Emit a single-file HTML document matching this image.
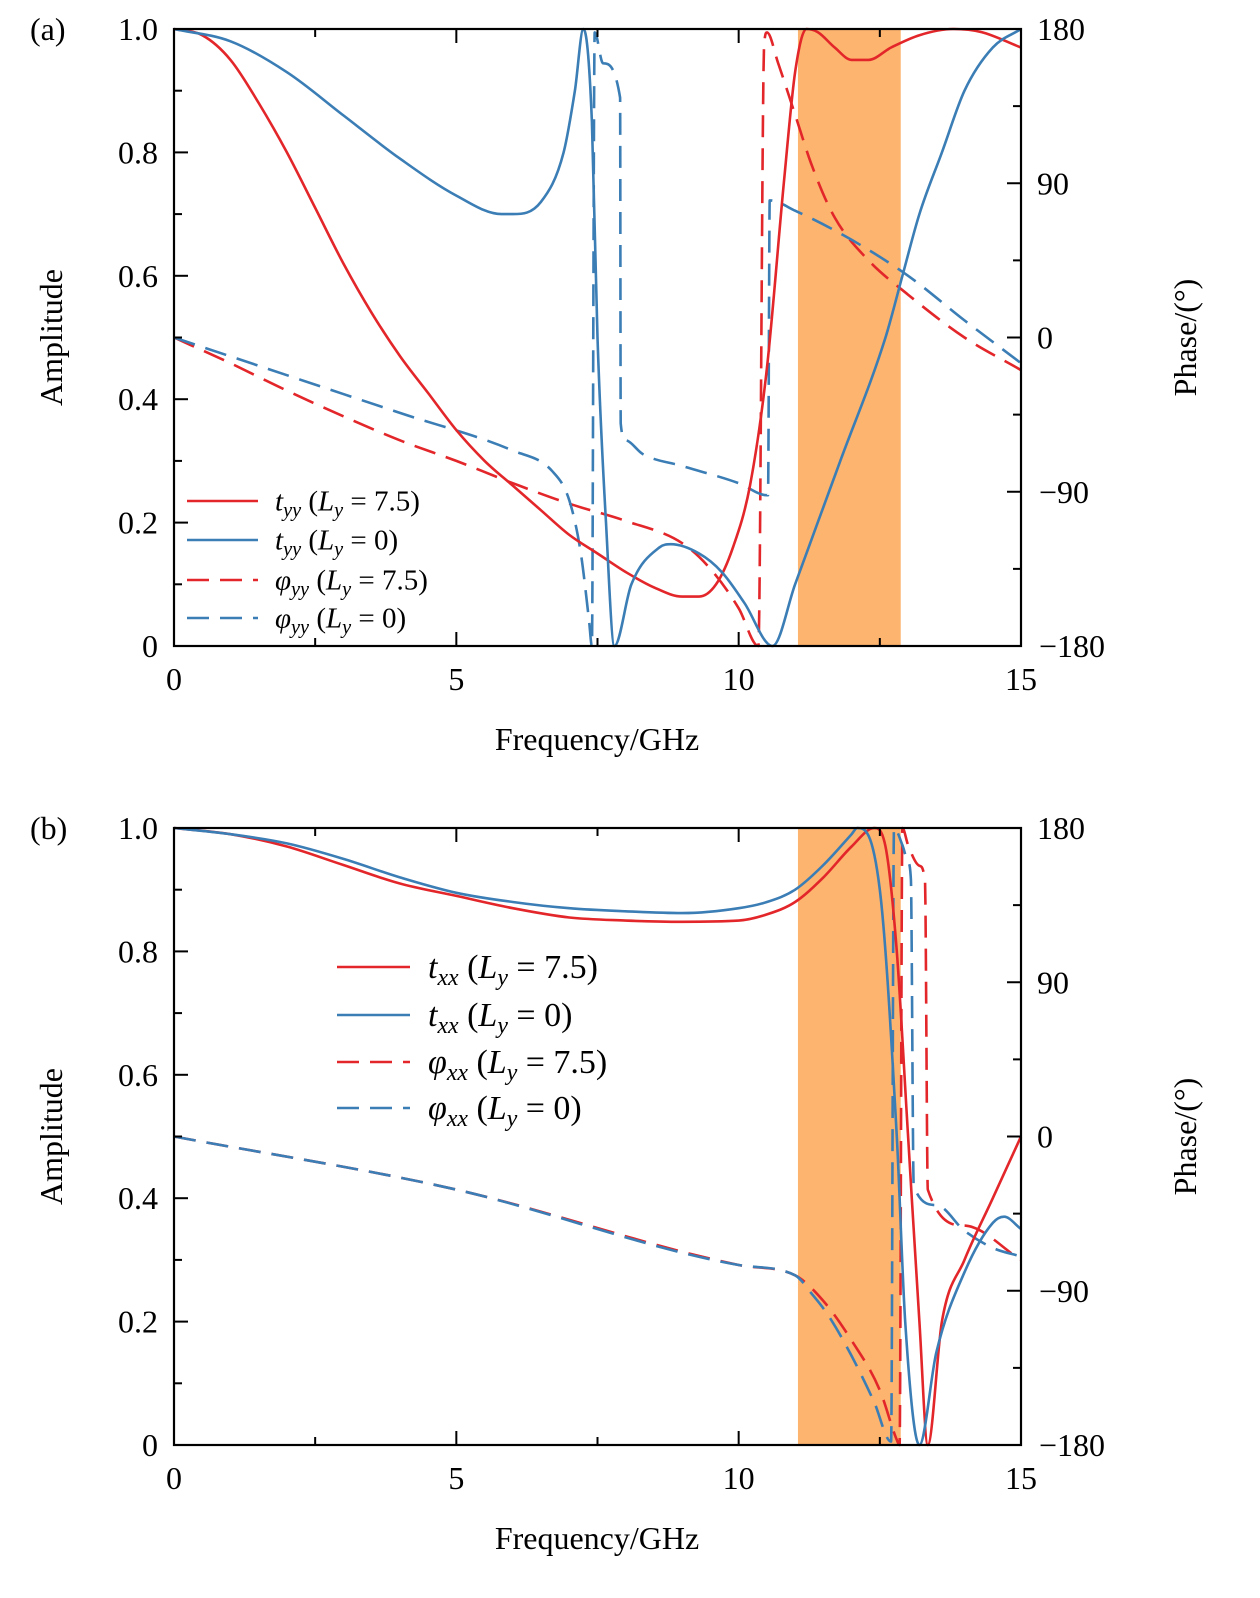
<!DOCTYPE html>
<html><head><meta charset="utf-8"><style>
html,body{margin:0;padding:0;background:#fff;}
svg{display:block;font-family:"Liberation Serif","DejaVu Serif",serif;}
</style></head><body>
<svg id="chart" width="1260" height="1598" viewBox="0 0 1260 1598" xmlns="http://www.w3.org/2000/svg"></svg>
<script>
const freqTicks=[0,5,10,15];
const ampTicks=[0,0.2,0.4,0.6,0.8,1.0];
const ampTickLabels=["0","0.2","0.4","0.6","0.8","1.0"];
const phaseTicks=[180,90,0,-90,-180];
const phaseTickLabels=["180","90","0","\u221290","\u2212180"];
const bandRange=[11.05,12.87];

// Panel (a)
const aTyyRedF=[0,0.5,1,1.5,2,2.5,3,3.5,4,4.5,5,5.5,6,6.5,7,7.5,8,8.5,9,9.3,9.6,9.9,10.2,10.5,10.8,11.0,11.2,11.4,11.7,12.0,12.3,12.7,13.2,13.8,14.3,15];
const aTyyRedA=[1.0,0.99,0.95,0.88,0.8,0.71,0.62,0.54,0.47,0.41,0.35,0.30,0.26,0.22,0.18,0.15,0.12,0.095,0.08,0.08,0.1,0.16,0.26,0.45,0.75,0.93,1.0,0.995,0.97,0.95,0.95,0.97,0.99,1.0,0.995,0.97];
const aTyyBlueF=[0,1,2,3,4,5,5.8,6.0,6.5,6.9,7.1,7.25,7.4,7.5,7.65,7.8,8.1,8.6,8.8,9.3,9.7,10.1,10.6,11.0,11.4,11.8,12.6,12.9,13.2,13.6,14.0,14.5,15];
const aTyyBlueA=[1.0,0.98,0.93,0.86,0.79,0.73,0.70,0.70,0.72,0.8,0.9,1.0,0.85,0.5,0.2,0,0.1,0.16,0.165,0.15,0.12,0.07,0,0.1,0.2,0.3,0.5,0.6,0.7,0.8,0.9,0.97,1.0];
const aPhiRedF=[0,1,2,3,4,5,6,7,8,9,9.5,10,10.35,10.45,10.5,10.7,11.0,11.3,11.7,12.3,13.0,14,15];
const aPhiRedP=[0,-15,-31,-46,-60,-72,-85,-97,-107,-120,-135,-158,-180,170,178,160,130,100,70,45,25,0,-19];
const aPhiBlueF=[0,2,4,6,6.7,7.0,7.2,7.35,7.4,7.45,7.6,7.9,7.91,8.0,8.3,9,10,10.5,10.52,10.55,11,12,13,14,15];
const aPhiBlueP=[0,-22,-44,-66,-78,-95,-125,-165,-180,178,160,140,-50,-60,-68,-75,-85,-92,-92,80,74,57,36,10,-15];

// Panel (b)
const bTxxRedF=[0,1,2,3,4,5,6,7,8,9,10,10.5,11,11.5,12,12.4,12.6,12.8,13.0,13.2,13.35,13.6,14,14.5,15];
const bTxxRedA=[1.0,0.99,0.97,0.94,0.91,0.89,0.87,0.855,0.85,0.848,0.85,0.86,0.88,0.92,0.97,1.0,0.97,0.8,0.5,0.2,0,0.2,0.3,0.4,0.5];
const bTxxBlueF=[0,1,2,3,4,5,6,7,8,9,10,10.5,11,11.5,12,12.1,12.5,12.8,12.95,13.2,13.5,14,14.5,14.7,15];
const bTxxBlueA=[1.0,0.99,0.975,0.95,0.92,0.895,0.88,0.87,0.865,0.862,0.87,0.88,0.9,0.94,0.99,1.0,0.9,0.5,0.2,0,0.15,0.28,0.36,0.37,0.35];
const bPhiRedF=[0,5,10,11,11.5,12,12.5,12.8,12.85,12.9,13.0,13.2,13.3,13.35,14,15];
const bPhiRedP=[0,-31,-75,-81,-96,-119,-148,-177,-180,180,170,158,149,-31,-52,-72];
const bPhiBlueF=[0,5,10,11,11.3,11.6,12,12.4,12.7,12.75,12.9,13.0,13.05,13.1,13.5,14,14.5,15];
const bPhiBlueP=[0,-31,-75,-81,-92,-105,-128,-155,-178,180,170,160,150,-29,-40,-55,-65,-70];

const NS="http://www.w3.org/2000/svg";
const svg=document.getElementById('chart');
function mk(tag,attrs,parent){const e=document.createElementNS(NS,tag);for(const k in attrs)e.setAttribute(k,attrs[k]);(parent||svg).appendChild(e);return e;}
const X0=174,X1=1021;
function xs(f){return X0+(X1-X0)*f/15;}

function panel(top,label,id){
  const Y1=top,Y0=top+617;
  const ya=a=>Y0-(Y0-Y1)*a;
  const yp=p=>Y0-(Y0-Y1)*(p+180)/360;
  const g=mk('g',{});
  
  
  const band=mk('rect',{x:xs(bandRange[0]),y:Y1,width:xs(bandRange[1])-xs(bandRange[0]),height:Y0-Y1,fill:'#fdb46f'},g);
  
  
  return {g,Y0,Y1,ya,yp};
}
function monoPath(F,V,fn){
  const n=F.length,d=[],m=[];
  for(let i=0;i<n-1;i++)d.push((V[i+1]-V[i])/(F[i+1]-F[i]));
  m[0]=d[0];m[n-1]=d[n-2];
  for(let i=1;i<n-1;i++){m[i]=(d[i-1]*d[i]<=0)?0:(d[i-1]+d[i])/2;}
  for(let i=0;i<n-1;i++){
    if(d[i]===0){m[i]=0;m[i+1]=0;continue;}
    const a=m[i]/d[i],b=m[i+1]/d[i],s=a*a+b*b;
    if(s>9){const t=3/Math.sqrt(s);m[i]=t*a*d[i];m[i+1]=t*b*d[i];}
  }
  let p='M'+xs(F[0]).toFixed(1)+','+fn(V[0]).toFixed(1);
  for(let i=0;i<n-1;i++){
    const h=F[i+1]-F[i];
    const c1x=xs(F[i]+h/3),c1y=fn(V[i]+m[i]*h/3);
    const c2x=xs(F[i+1]-h/3),c2y=fn(V[i+1]-m[i+1]*h/3);
    p+=` C${c1x.toFixed(1)},${c1y.toFixed(1)} ${c2x.toFixed(1)},${c2y.toFixed(1)} ${xs(F[i+1]).toFixed(1)},${fn(V[i+1]).toFixed(1)}`;
  }
  return p;
}
function line(p,F,V,fn,color,dash,name){
  const el=mk('path',{d:monoPath(F,V,fn),fill:'none',stroke:color,'stroke-width':2.6,'stroke-dasharray':dash||'none','stroke-linejoin':'round'},p.g);
  
  
}
function axes(p,lab,id){
  const g=p.g;
  const fr=mk('rect',{x:X0,y:p.Y1,width:X1-X0,height:p.Y0-p.Y1,fill:'none',stroke:'#000','stroke-width':2.2},g);
  
  
  for(let i=0;i<=10;i++){const a=i/10,y=p.ya(a),L=(i%2==0)?14:8;
    mk('line',{x1:X0,x2:X0+L,y1:y,y2:y,stroke:'#000','stroke-width':2},g);}
  ampTicks.forEach((a,i)=>{const t=mk('text',{x:X0-16,y:p.ya(a)+11,'text-anchor':'end','font-size':32},g);t.textContent=ampTickLabels[i];
    });
  for(let ph=-180;ph<=180;ph+=45){const y=p.yp(ph),L=(ph%90==0)?14:8;
    mk('line',{x1:X1-L,x2:X1,y1:y,y2:y,stroke:'#000','stroke-width':2},g);}
  phaseTicks.forEach((ph,i)=>{const t=mk('text',{x:X1+16,y:p.yp(ph)+11,'font-size':32},g);t.textContent=phaseTickLabels[i];
    if(ph<0)t.setAttribute('x',X1+18);
    });
  for(let f=0;f<=15;f+=2.5){const x=xs(f),L=(f%5==0)?14:8;
    mk('line',{x1:x,x2:x,y1:p.Y0,y2:p.Y0-L,stroke:'#000','stroke-width':2},g);
    mk('line',{x1:x,x2:x,y1:p.Y1,y2:p.Y1+L,stroke:'#000','stroke-width':2},g);}
  freqTicks.forEach(f=>{const t=mk('text',{x:xs(f),y:p.Y0+44,'text-anchor':'middle','font-size':32},g);t.textContent=String(f);
    });
  const xt=mk('text',{x:597,y:p.Y0+104,'text-anchor':'middle','font-size':32},g);xt.textContent='Frequency/GHz';
  
  const cy=(p.Y0+p.Y1)/2;
  const yt=mk('text',{x:0,y:0,'text-anchor':'middle','font-size':32,transform:`translate(62,${cy}) rotate(-90)`},g);yt.textContent='Amplitude';
  
  const y2=mk('text',{x:0,y:0,'text-anchor':'middle','font-size':32,transform:`translate(1196,${cy}) rotate(-90)`},g);y2.textContent='Phase/(°)';
  
  const pl=mk('text',{x:30,y:p.Y1+11,'font-size':32},g);pl.textContent=lab;
  
}
function legend(p,x0,x1,tx,ys,fs,sub,items){
  items.forEach((it,i)=>{
    const y=ys[i];
    const gg=mk('g',{},p.g);
    
    
    mk('line',{x1:x0,x2:x1,y1:y,y2:y,stroke:it.c,'stroke-width':2.6,'stroke-dasharray':it.d||'none'},gg);
    const t=mk('text',{x:tx,y:y+fs*0.33,'font-size':fs},gg);
    t.innerHTML=`<tspan font-style="italic">${it.s}</tspan><tspan font-style="italic" font-size="${fs*0.7}" dy="${fs*0.2}">${sub}</tspan><tspan dy="${-fs*0.2}"> (</tspan><tspan font-style="italic">L</tspan><tspan font-style="italic" font-size="${fs*0.7}" dy="${fs*0.2}">y</tspan><tspan dy="${-fs*0.2}"> = ${it.v})</tspan>`;
  });
}
const RED='#e3262a',BLUE='#3b7db5',DASH='22,11';

const pa=panel(29,'(a)','a');
line(pa,aPhiRedF,aPhiRedP,pa.yp,RED,DASH,'phi-yy-7.5-line');
line(pa,aPhiBlueF,aPhiBlueP,pa.yp,BLUE,DASH,'phi-yy-0-line');
line(pa,aTyyRedF,aTyyRedA,pa.ya,RED,null,'t-yy-7.5-line');
line(pa,aTyyBlueF,aTyyBlueA,pa.ya,BLUE,null,'t-yy-0-line');
axes(pa,'(a)','a');
legend(pa,187,258,275,[501,540,580,618],29,'yy',[{s:'t',c:RED,v:'7.5'},{s:'t',c:BLUE,v:'0'},{s:'φ',c:RED,d:DASH,v:'7.5'},{s:'φ',c:BLUE,d:DASH,v:'0'}]);

const pb=panel(828,'(b)','b');
line(pb,bPhiRedF,bPhiRedP,pb.yp,RED,DASH,'phi-xx-7.5-line');
line(pb,bPhiBlueF,bPhiBlueP,pb.yp,BLUE,DASH,'phi-xx-0-line');
line(pb,bTxxRedF,bTxxRedA,pb.ya,RED,null,'t-xx-7.5-line');
line(pb,bTxxBlueF,bTxxBlueA,pb.ya,BLUE,null,'t-xx-0-line');
axes(pb,'(b)','b');
legend(pb,337,410,428,[967,1015,1062,1108],34,'xx',[{s:'t',c:RED,v:'7.5'},{s:'t',c:BLUE,v:'0'},{s:'φ',c:RED,d:DASH,v:'7.5'},{s:'φ',c:BLUE,d:DASH,v:'0'}]);
</script>
</body></html>
